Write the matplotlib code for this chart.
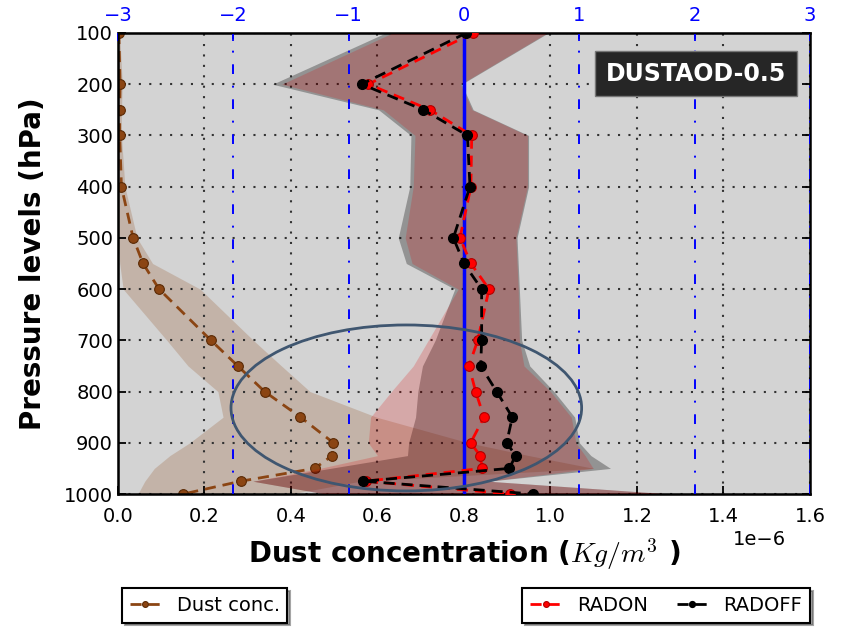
import matplotlib
matplotlib.use("Agg")
import matplotlib.pyplot as plt
from matplotlib.patches import Ellipse

plt.rcParams['mathtext.fontset'] = 'cm'
plt.rcParams['font.family'] = ['DejaVu Sans']

# Pressure levels (hPa)
levels = [100, 200, 250, 300, 400, 500, 550, 600, 700, 750, 800, 850, 900, 925, 950, 975, 1000]

# Dust concentration (x 1e-6 kg/m^3): mean and spread envelope
dust_mean = [0.002, 0.005, 0.004, 0.004, 0.008, 0.035, 0.058, 0.095, 0.215, 0.277, 0.339,
             0.422, 0.498, 0.495, 0.455, 0.284, 0.151]
dust_low = [0.0, 0.0, 0.0, 0.0, 0.0, 0.0, 0.004, 0.012, 0.113, 0.162, 0.231,
            0.243, 0.166, 0.12, 0.084, 0.062, 0.046]
dust_high = [0.004, 0.01, 0.008, 0.008, 0.016, 0.044, 0.08, 0.19, 0.313, 0.378, 0.444,
             0.598, 0.81, 0.95, 1.10, 0.56, 0.40]

# Experiment profiles on the upper axis: mean and envelope
radon_mean = [0.08, -0.83, -0.295, 0.067, 0.06, -0.035, 0.06, 0.217, 0.119, 0.043, 0.101,
              0.173, 0.058, 0.139, 0.159, -0.85, 0.40]
radon_low = [-0.62, -1.58, -0.70, -0.425, -0.44, -0.51, -0.45, -0.05, -0.31, -0.44, -0.63,
             -0.81, -0.83, -0.75, -1.25, -1.83, -1.2]
radon_high = [0.72, -0.03, 0.07, 0.55, 0.55, 0.45, 0.46, 0.47, 0.48, 0.52, 0.75,
              0.93, 0.97, 1.05, 1.12, 0.21, 1.79]

radoff_mean = [0.02, -0.887, -0.353, 0.03, 0.052, -0.092, 0.0, 0.153, 0.153, 0.145, 0.283,
               0.419, 0.37, 0.448, 0.393, -0.873, 0.60]
radoff_low = [-0.68, -1.66, -0.74, -0.46, -0.47, -0.57, -0.50, -0.08, -0.25, -0.36, -0.40,
              -0.42, -0.48, -0.49, -1.16, -1.83, -1.2]
radoff_high = [0.73, -0.02, 0.08, 0.56, 0.56, 0.46, 0.47, 0.48, 0.50, 0.57, 0.78,
               0.96, 1.0, 1.1, 1.27, 0.21, 1.79]

bottom_ticks = [0.0, 0.2, 0.4, 0.6, 0.8, 1.0, 1.2, 1.4, 1.6]
top_ticks = [-3, -2, -1, 0, 1, 2, 3]
pressure_ticks = [100, 200, 300, 400, 500, 600, 700, 800, 900, 1000]

scale = 1e-6
brown = '#8B4513'

fig = plt.figure(figsize=(8.42, 6.27), dpi=100)
ax = fig.add_axes([0.1401, 0.2121, 0.962 - 0.1401, 0.9474 - 0.2121])
ax.set_facecolor('lightgray')

ax.fill_betweenx(levels, [v * scale for v in dust_low], [v * scale for v in dust_high],
                 color=brown, alpha=0.22, linewidth=0)
dust_line, = ax.plot([v * scale for v in dust_mean], levels, color=brown, lw=2,
                     linestyle=(0, (4, 2.5)), marker='o',
                     markersize=7, markeredgecolor='#5a2a05', markeredgewidth=0.8,
                     label='Dust conc.')

ax.set_xlim(0, 1.6e-6)
ax.set_ylim(1000, 100)
ax.set_xticks([t * scale for t in bottom_ticks])
ax.set_yticks(pressure_ticks)
ax.grid(True, color='#333333', linestyle=(0, (1, 4)), linewidth=1.5)
ax.tick_params(direction='in', top=True, right=True, labelsize=14, length=6, width=1.3)
ax.tick_params(axis='x', pad=9)
ax.xaxis.get_offset_text().set_fontsize(14)
ax.xaxis.get_offset_text().set_x(0.965)
for s in ax.spines.values():
    s.set_linewidth(1.8)

ax.set_xlabel(r'Dust concentration ($Kg/m^3$ )', fontsize=20, fontweight='bold', labelpad=8)
ax.set_ylabel('Pressure levels (hPa)', fontsize=20, fontweight='bold', labelpad=12)

ax2 = ax.twiny()
ax2.fill_betweenx(levels, radoff_low, radoff_high, color='black', alpha=0.3, linewidth=0)
ax2.fill_betweenx(levels, radon_low, radon_high, color='#e00000', alpha=0.2, linewidth=0)
ax2.set_xlim(-3, 3)
ax2.set_xticks(top_ticks)
ax2.xaxis.grid(True, color='blue', linestyle=(0, (5, 6, 1, 6)), linewidth=1.4)
ax2.axvline(0, color='blue', linewidth=2.5, zorder=3)
ax2.tick_params(axis='x', colors='blue', direction='in', labelsize=14, length=6, width=1.3,
                pad=6)

radon_line, = ax2.plot(radon_mean, levels, color='red', lw=2, linestyle=(0, (4, 2.5)),
                       marker='o', markersize=7, markeredgecolor='#b00000',
                       markeredgewidth=0.8, label='RADON', zorder=4)
radoff_line, = ax2.plot(radoff_mean, levels, color='black', lw=2, linestyle=(0, (4, 2.5)),
                        marker='o', markersize=7, label='RADOFF', zorder=4)

# Highlight of the lower-troposphere region
ell_center = (-0.5, 832)
ell_width = 3.04
ell_height = 324
ax2.add_patch(Ellipse(ell_center, ell_width, ell_height, fill=False,
                      edgecolor='#3f5670', linewidth=2, zorder=6))

ax2.text(0.835, 0.912, 'DUSTAOD-0.5', transform=ax2.transAxes, color='white',
         fontsize=17, fontweight='bold', ha='center', va='center', zorder=7,
         bbox=dict(boxstyle='square,pad=0.45', facecolor='#262626', edgecolor='#777777',
                   linewidth=1))

leg1 = ax.legend(handles=[dust_line], loc='upper left', bbox_to_anchor=(0.006, -0.204),
                 borderaxespad=0, fontsize=14, fancybox=False, shadow=True,
                 edgecolor='black', framealpha=1, handlelength=1.6, markerscale=0.6,
                 borderpad=0.4)
leg1.get_frame().set_linewidth(1.5)
leg2 = ax2.legend(handles=[radon_line, radoff_line], loc='upper right',
                  bbox_to_anchor=(1.0, -0.204), borderaxespad=0, ncol=2, fontsize=14,
                  fancybox=False, shadow=True, edgecolor='black', framealpha=1,
                  handlelength=1.6, markerscale=0.6, columnspacing=1.5, borderpad=0.4)
leg2.get_frame().set_linewidth(1.5)

fig.savefig('out.png', dpi=100)
